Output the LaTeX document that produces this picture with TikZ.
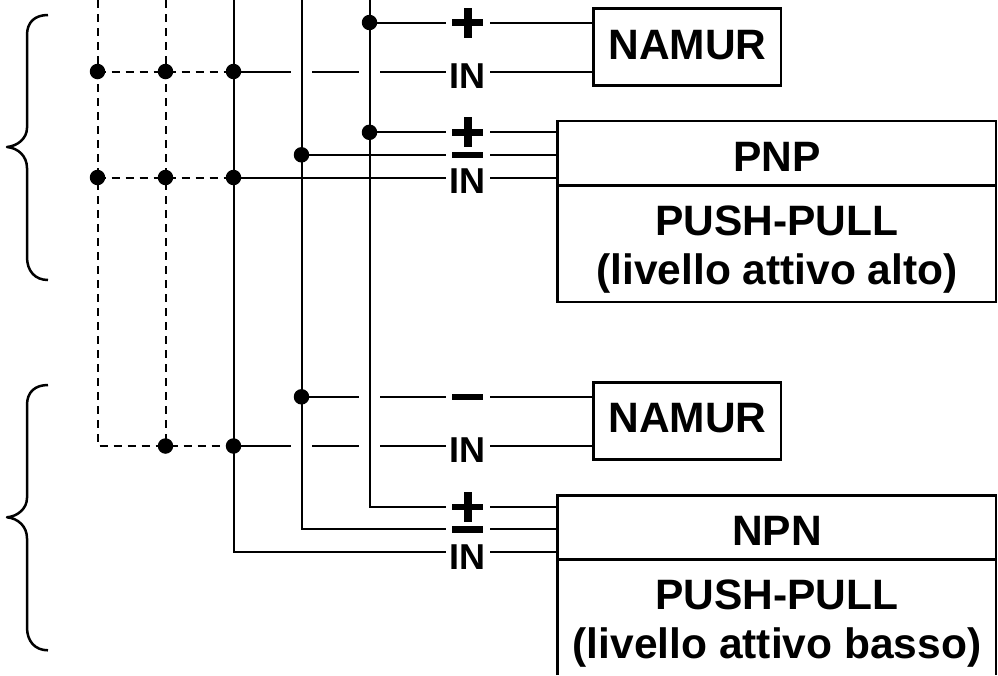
\documentclass[tikz,border=0pt]{standalone}
\usepackage{fontspec}
\setmainfont{Liberation Sans}
\tikzset{
  x=1pt,y=-1pt,
  wire/.style={line width=2pt,line cap=butt},
  dashwire/.style={line width=2pt,dash pattern=on 8pt off 6pt},
  dotnode/.style={circle,fill=black,inner sep=0pt,minimum size=15.5pt},
  boxline/.style={line width=2.6pt},
  devbox/.style={draw,boxline,anchor=north west,inner sep=0pt,outer sep=0pt},
  pin/.style={font=\bfseries\fontsize{36}{36}\selectfont,inner sep=0pt,anchor=base},
  boxtext/.style={font=\bfseries\fontsize{42.5}{49}\selectfont,inner sep=0pt,anchor=base},
  bracepath/.style={line width=2.5pt,line cap=butt,line join=round}
}
\newcommand{\bracedraw}[2]{%
  \draw[bracepath] (48,#1) .. controls (35,#1) and (27,{#1+7}) .. (27,{#1+20})
    -- (27,{#1+113}) .. controls (27,{#2-9}) and (18,{#2-1}) .. (7,#2)
    .. controls (18,{#2+1}) and (27,{#2+9}) .. (27,{#2+21})
    -- (27,{#2+110}) .. controls (27,{#2+124}) and (35,{#2+133}) .. (48,{#2+133});
}
\newcommand{\plusmark}[1]{%
  \fill (452.3,{#1-3.2}) rectangle (483.3,{#1+3.2});
  \fill (464,{#1-15}) rectangle (472,{#1+15});
}
\begin{document}
\begin{tikzpicture}
\useasboundingbox (0,0) rectangle (998,675);
% vertical rails
\coordinate (a0) at (97.5,0);
\coordinate (b0) at (165.5,0);
\coordinate (c0) at (233.5,0);
\coordinate (d0) at (301.5,0);
\coordinate (e0) at (369.5,0);
% boxes
\node[devbox,minimum width=187.5pt,minimum height=77pt] (nam1) at (593.5,8.5) {};
\node[devbox,minimum width=438.5pt,minimum height=181pt] (pnp) at (557.5,121) {};
\node[devbox,minimum width=187.5pt,minimum height=76.5pt] (nam2) at (593.5,382.7) {};
\draw[boxline] (557.5,675) -- (557.5,495.5) -- (996,495.5) -- (996,675);
\draw[boxline,line width=3pt] (557.5,185) -- (996,185);
\draw[boxline,line width=3pt] (557.5,559.3) -- (996,559.3);
\node[boxtext] at (687.5,59.5) {NAMUR};
\node[boxtext] at (777,171.7) {PNP};
\node[boxtext] at (777,235) {PUSH-PULL};
\node[boxtext] at (777,284) {(livello attivo alto)};
\node[boxtext] at (687.5,432.7) {NAMUR};
\node[boxtext] at (777,545) {NPN};
\node[boxtext] at (777,609) {PUSH-PULL};
\node[boxtext] at (777,658) {(livello attivo basso)};
% junctions
\foreach \n/\x/\y in {j1/97.5/71.5,j2/165.5/71.5,j3/233.5/71.5,j4/97.5/177.5,j5/165.5/177.5,j6/233.5/177.5,j7/165.5/446,j8/233.5/446,j9/369.5/22.5,j10/369.5/132.3,j11/301.5/154.8,j12/301.5/396.8}
  \node[dotnode] (\n) at (\x,\y) {};
\coordinate (k1) at (97.5,446);
\coordinate (k2) at (369.5,506.7);
\coordinate (k3) at (301.5,529.3);
\coordinate (k4) at (233.5,552);
% dashed
\draw[dashwire] (a0) -- (k1) -- (j8.center);
\draw[dashwire] (b0) -- (j7.center);
\draw[dashwire] (j1.center) -- (j3.center);
\draw[dashwire] (j4.center) -- (j6.center);
% solid rails
\draw[wire] (c0) -- (k4) -- (558,552);
\draw[wire] (d0) -- (k3) -- (558,529.3);
\draw[wire] (e0) -- (k2) -- (558,506.7);
% horizontal
\draw[wire] (j9.center) -- (593.5,22.5);
\draw[wire] (j3.center) -- (291,71.5) (312,71.5) -- (359,71.5) (380,71.5) -- (593.5,71.5);
\draw[wire] (j10.center) -- (558,132.3);
\draw[wire] (j11.center) -- (558,154.8);
\draw[wire] (j6.center) -- (558,177.5);
\draw[wire] (j12.center) -- (359,396.8) (380,396.8) -- (593.5,396.8);
\draw[wire] (j8.center) -- (291,446) (312,446) -- (359,446) (380,446) -- (593.5,446);
% pin label backgrounds
\foreach \y in {22.5,71.5,132.3,154.8,177.5,396.8,446,506.7,529.3,552}
  \fill[white] (446,{\y-4}) rectangle (489.7,{\y+4});
\plusmark{22.5}
\plusmark{132.3}
\plusmark{506.7}
\fill (452.3,151.7) rectangle (483.3,158);
\fill (452.3,393.7) rectangle (483.3,400);
\fill (452.3,526.2) rectangle (483.3,532.5);
\node[pin] at (467.5,88) {IN};
\node[pin] at (467.5,193.5) {IN};
\node[pin] at (467.5,462.7) {IN};
\node[pin] at (467.5,569) {IN};
% braces
\bracedraw{15}{147}
\bracedraw{385}{517.3}
\end{tikzpicture}
\end{document}
